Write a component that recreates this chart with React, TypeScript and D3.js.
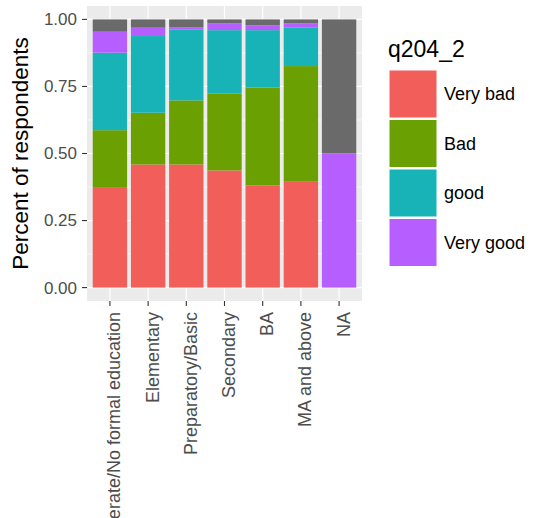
import React from "react";
import * as d3 from "d3";

const categories = [
  "Illiterate/No formal education",
  "Elementary",
  "Preparatory/Basic",
  "Secondary",
  "BA",
  "MA and above",
  "NA",
];
const levels = ["Very bad", "Bad", "good", "Very good", "NA"];
const veryBad = [0.372, 0.459, 0.459, 0.437, 0.381, 0.397, 0];
const bad = [0.215, 0.193, 0.239, 0.286, 0.365, 0.429, 0];
const good = [0.289, 0.286, 0.265, 0.237, 0.214, 0.143, 0];
const veryGood = [0.078, 0.031, 0.007, 0.025, 0.018, 0.016, 0.5];
const naShare = [0.046, 0.031, 0.03, 0.015, 0.022, 0.015, 0.5];
const yTicks = [0, 0.25, 0.5, 0.75, 1];
const yMinor = [0.125, 0.375, 0.625, 0.875];
const legendTitle = "q204_2";
const yTitle = "Percent of respondents";

const colors = ["#F25F5B", "#6BA003", "#17B3B6", "#B65EFF", "#6A6A6A"];

export default function App() {
  const W = 535, H = 518;
  const pl = 87, pr = 362, pt = 6, pb = 301;
  const y = d3.scaleLinear().domain([-0.05, 1.05]).range([pb, pt]);
  const unit = (pr - pl) / (categories.length + 0.2);
  const x = d3.scaleBand().domain(categories).range([pl + 0.1 * unit, pr - 0.1 * unit]).paddingInner(0.1).paddingOuter(0.05);
  const cx = (c: string) => (x(c) as number) + x.bandwidth() / 2;
  const series = [veryBad, bad, good, veryGood, naShare];
  const rows = categories.map((c, i) => {
    const r: any = { cat: c };
    levels.forEach((l, j) => (r[l] = series[j][i]));
    return r;
  });
  const stack = d3.stack<any>().keys(levels);
  const stacked = stack(rows);
  const font = "'Liberation Sans', Arial, sans-serif";
  const keyPitch = 49.5;
  return (
    <svg width={W} height={H} style={{ position: "absolute", left: 0, top: 0, background: "#fff" }} fontFamily={font}>
      <rect x={pl} y={pt} width={pr - pl} height={pb - pt} fill="#EBEBEB" />
      {yMinor.map((t) => (
        <line key={"m" + t} x1={pl} x2={pr} y1={y(t)} y2={y(t)} stroke="#fff" strokeWidth={0.6} />
      ))}
      {yTicks.map((t) => (
        <line key={"g" + t} x1={pl} x2={pr} y1={y(t)} y2={y(t)} stroke="#fff" strokeWidth={1.2} />
      ))}
      {categories.map((c) => (
        <line key={"v" + c} x1={cx(c)} x2={cx(c)} y1={pt} y2={pb} stroke="#fff" strokeWidth={1.2} />
      ))}
      {stacked.map((s) => (
        <g key={s.key} fill={colors[levels.indexOf(s.key)]}>
          {s.map((d, i) =>
            d[1] - d[0] > 0 ? (
              <rect key={i} x={x(categories[i])} width={x.bandwidth()} y={y(d[1])} height={y(d[0]) - y(d[1])} />
            ) : null
          )}
        </g>
      ))}
      {yTicks.map((t) => (
        <g key={"t" + t}>
          <line x1={pl - 5} x2={pl} y1={y(t)} y2={y(t)} stroke="#333" strokeWidth={1.1} />
          <text x={pl - 10} y={y(t)} dy="0.35em" textAnchor="end" fontSize={17} fill="#4D4D4D">
            {t.toFixed(2)}
          </text>
        </g>
      ))}
      {categories.map((c) => (
        <g key={"xt" + c}>
          <line x1={cx(c)} x2={cx(c)} y1={pb} y2={pb + 5} stroke="#333" strokeWidth={1.1} />
          <text
            transform={`translate(${cx(c) + 10.5},${pb + 11}) rotate(-90)`}
            textAnchor="end"
            fontSize={18}
            fill="#4D4D4D"
          >
            {c}
          </text>
        </g>
      ))}
      <text transform={`translate(27.5,${(pt + pb) / 2}) rotate(-90)`} textAnchor="middle" fontSize={22.5} fill="#000">
        {yTitle}
      </text>
      <text x={388} y={57} fontSize={23} fill="#000">
        {legendTitle}
      </text>
      {levels.slice(0, 4).map((l, i) => (
        <g key={"lg" + l}>
          <rect x={389} y={70 + i * keyPitch} width={48} height={keyPitch - 1.5} fill={colors[i]} stroke="#fff" strokeWidth={1} />
          <text x={444} y={70 + i * keyPitch + (keyPitch - 1.5) / 2} dy="0.35em" fontSize={18} fill="#000">
            {l}
          </text>
        </g>
      ))}
    </svg>
  );
}
